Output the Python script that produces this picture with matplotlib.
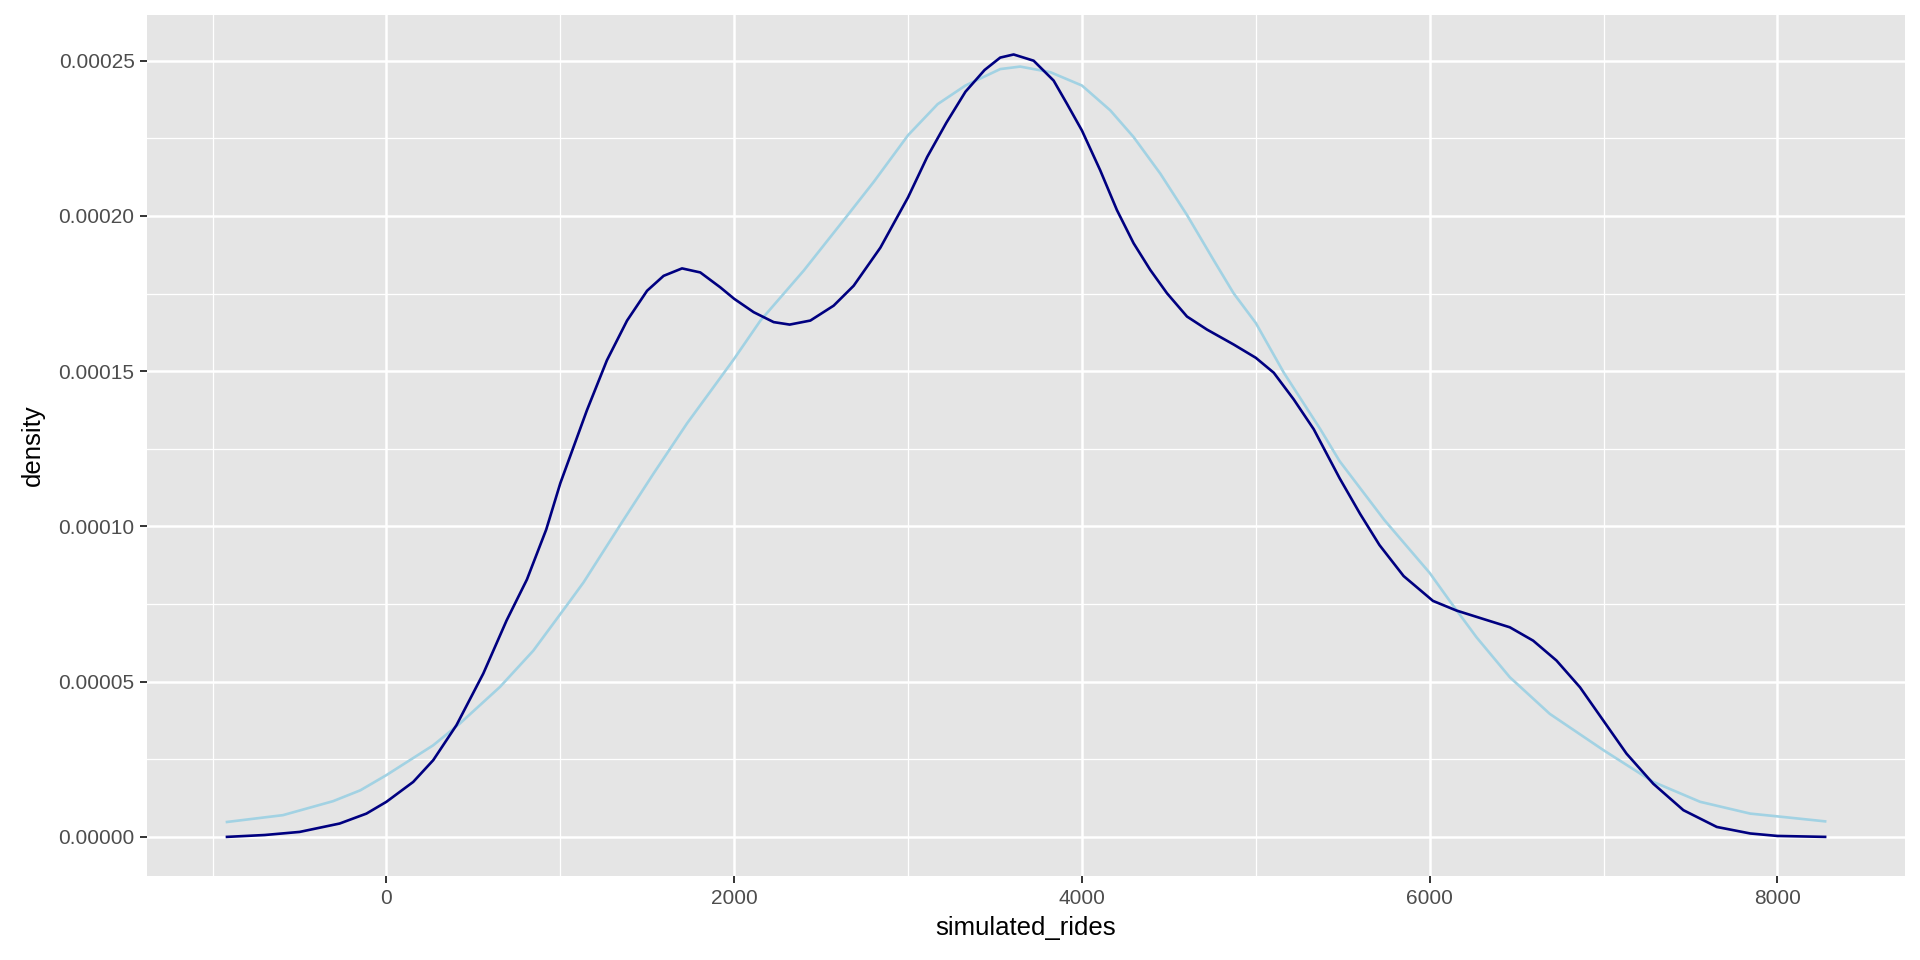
import numpy as np
import matplotlib as mpl
import matplotlib.pyplot as plt

mpl.rcParams['font.family'] = ['Liberation Sans', 'DejaVu Sans']

# density curves (x = simulated_rides, y = density)
dark_x = [-917, -700, -499, -269, -115, 0, 154, 269, 403, 557, 691, 808, 919, 1000,
          1153, 1268, 1384, 1499, 1594, 1700, 1805, 1920, 2000, 2112, 2227, 2319, 2438,
          2572, 2687, 2841, 3000, 3110, 3220, 3330, 3440, 3530, 3607, 3722, 3837, 3914,
          4000, 4105, 4201, 4297, 4393, 4489, 4604, 4719, 4872, 5000, 5103, 5218, 5333,
          5482, 5600, 5711, 5850, 6019, 6154, 6307, 6461, 6595, 6729, 6864, 6998, 7132,
          7286, 7459, 7651, 7843, 8000, 8274]
dark_y = [0.0, 6e-7, 1.6e-6, 4.3e-6, 7.5e-6, 1.13e-5, 1.77e-5, 2.47e-5, 3.6e-5, 5.26e-5,
          6.97e-5, 8.29e-5, 9.9e-5, 1.139e-4, 1.374e-4, 1.535e-4, 1.663e-4, 1.759e-4,
          1.807e-4, 1.831e-4, 1.818e-4, 1.77e-4, 1.733e-4, 1.69e-4, 1.658e-4, 1.65e-4,
          1.663e-4, 1.711e-4, 1.775e-4, 1.898e-4, 2.06e-4, 2.19e-4, 2.30e-4, 2.40e-4,
          2.47e-4, 2.51e-4, 2.52e-4, 2.50e-4, 2.436e-4, 2.361e-4, 2.275e-4, 2.147e-4,
          2.019e-4, 1.912e-4, 1.826e-4, 1.751e-4, 1.676e-4, 1.634e-4, 1.586e-4, 1.543e-4,
          1.495e-4, 1.409e-4, 1.313e-4, 1.155e-4, 1.04e-4, 9.4e-5, 8.4e-5, 7.6e-5,
          7.29e-5, 7.02e-5, 6.75e-5, 6.32e-5, 5.68e-5, 4.82e-5, 3.75e-5, 2.68e-5,
          1.71e-5, 8.6e-6, 3.2e-6, 1.1e-6, 3e-7, 0.0]

light_x = [-917, -595, -307, -150, 0, 269, 422, 653, 845, 1056, 1134, 1345, 1537, 1729,
           1870, 2000, 2151, 2400, 2649, 2803, 3000, 3170, 3330, 3530, 3645, 3818, 4000,
           4163, 4297, 4451, 4604, 4757, 4872, 5000, 5161, 5371, 5482, 5740, 6000, 6115,
           6269, 6461, 6691, 7000, 7286, 7555, 7843, 8000, 8274]
light_y = [4.8e-6, 7.0e-6, 1.15e-5, 1.5e-5, 1.99e-5, 2.95e-5, 3.65e-5, 4.83e-5, 6.0e-5,
           7.6e-5, 8.2e-5, 1.005e-4, 1.171e-4, 1.332e-4, 1.44e-4, 1.54e-4, 1.663e-4,
           1.824e-4, 2.0e-4, 2.11e-4, 2.26e-4, 2.36e-4, 2.42e-4, 2.473e-4, 2.481e-4,
           2.463e-4, 2.42e-4, 2.34e-4, 2.254e-4, 2.136e-4, 2.003e-4, 1.858e-4, 1.751e-4,
           1.655e-4, 1.495e-4, 1.313e-4, 1.21e-4, 1.02e-4, 8.5e-5, 7.6e-5, 6.43e-5,
           5.14e-5, 3.96e-5, 2.79e-5, 1.77e-5, 1.13e-5, 7.5e-6, 6.6e-6, 5.0e-6]

x_ticks = [0, 2000, 4000, 6000, 8000]
y_ticks = [0.0, 0.00005, 0.0001, 0.00015, 0.0002, 0.00025]
y_labels = ['0.00000', '0.00005', '0.00010', '0.00015', '0.00020', '0.00025']

fig = plt.figure(figsize=(19.2, 9.6), dpi=100)
ax = fig.add_axes([0.0766, 0.0875, 0.9156, 0.8965])
ax.set_facecolor('#E5E5E5')

# ggplot style grid
for v in [-1000, 1000, 3000, 5000, 7000]:
    ax.axvline(v, color='white', lw=0.9, zorder=0)
for v in [0.000025, 0.000075, 0.000125, 0.000175, 0.000225]:
    ax.axhline(v, color='white', lw=0.9, zorder=0)
for v in x_ticks:
    ax.axvline(v, color='white', lw=1.8, zorder=0)
for v in y_ticks:
    ax.axhline(v, color='white', lw=1.8, zorder=0)

ax.plot(light_x, light_y, color='#A2D2E3', lw=1.9, solid_joinstyle='round')
ax.plot(dark_x, dark_y, color='navy', lw=1.9, solid_joinstyle='round')

span = 8274 - (-917)
ax.set_xlim(-917 - 0.05 * span, 8274 + 0.05 * span)
ax.set_ylim(-0.05 * 0.000252, 0.000252 * 1.05)

ax.set_xticks(x_ticks)
ax.set_yticks(y_ticks)
ax.set_yticklabels(y_labels)
ax.tick_params(colors='#333333', labelcolor='#4D4D4D', labelsize=15, length=5, width=1.4, pad=4)
for s in ax.spines.values():
    s.set_visible(False)

ax.set_xlabel('simulated_rides', fontsize=18.5, color='black', labelpad=6)
ax.set_ylabel('density', fontsize=18.5, color='black', labelpad=10)

fig.savefig('out.png', dpi=100)
